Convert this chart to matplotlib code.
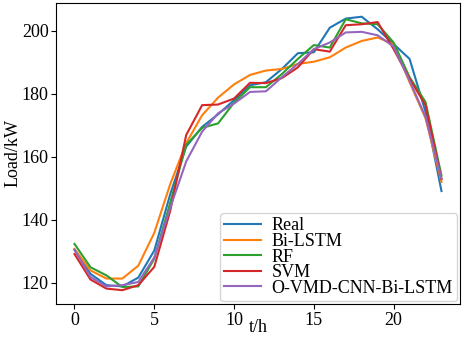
import matplotlib
matplotlib.use("Agg")
import matplotlib.pyplot as plt

plt.rcParams['font.family'] = ['Liberation Serif', 'DejaVu Serif']
plt.rcParams['mathtext.fontset'] = 'stix'

hours = list(range(24))
real = [130.4, 122.8, 119.2, 118.8, 121.6, 130.2, 148.1, 163.2, 169.5, 173.5, 178.0, 182.7,
        183.7, 187.9, 192.9, 193.2, 201.0, 203.9, 204.5, 200.5, 195.8, 191.1, 174.3, 149.1]
bilstm = [130.7, 123.9, 121.3, 121.3, 125.4, 135.8, 151.3, 164.3, 173.2, 178.8, 183.0, 186.0,
          187.4, 187.9, 189.5, 190.2, 191.6, 194.7, 196.8, 197.9, 195.8, 183.7, 172.2, 152.0]
rf = [132.3, 124.9, 122.3, 118.6, 118.8, 127.6, 145.4, 163.8, 169.2, 170.6, 177.2, 182.1,
      182.1, 186.3, 191.1, 195.5, 194.7, 203.7, 202.4, 202.1, 196.3, 185.3, 177.4, 154.0]
svm = [129.1, 121.0, 118.1, 117.6, 119.2, 125.0, 142.8, 166.9, 176.4, 176.6, 178.5, 183.5,
       183.4, 185.0, 188.4, 194.2, 193.4, 201.8, 202.1, 202.8, 194.2, 184.8, 176.4, 152.9]
ovmd = [130.5, 121.8, 118.8, 119.2, 120.2, 128.0, 143.8, 158.5, 168.0, 173.8, 176.9, 180.6,
        180.8, 185.3, 189.5, 194.2, 196.3, 199.5, 199.7, 198.6, 195.0, 184.2, 172.7, 153.0]

series = [("Real", real, "#1f77b4"), ("Bi-LSTM", bilstm, "#ff7f0e"), ("RF", rf, "#2ca02c"),
          ("SVM", svm, "#d62728"), ("O-VMD-CNN-Bi-LSTM", ovmd, "#9467bd")]

fig = plt.figure(figsize=(4.64, 3.38), dpi=100)
ax = fig.add_axes([0.121, 0.101, 0.870, 0.890])
for name, vals, c in series:
    ax.plot(hours, vals, color=c, lw=1.5, label=name)

ax.set_yticks([120, 140, 160, 180, 200])
ax.set_xticks([0, 5, 10, 15, 20])
ax.tick_params(labelsize=13, pad=2)
ax.set_xlabel("t/h", fontsize=13, labelpad=-7)
ax.set_ylabel("Load/kW", fontsize=13, labelpad=0)
ax.legend(loc="lower right", fontsize=13, labelspacing=-0.08, handlelength=2.0,
          borderpad=0.25, handletextpad=0.6, borderaxespad=0.15)
fig.savefig("out.png", dpi=100)
